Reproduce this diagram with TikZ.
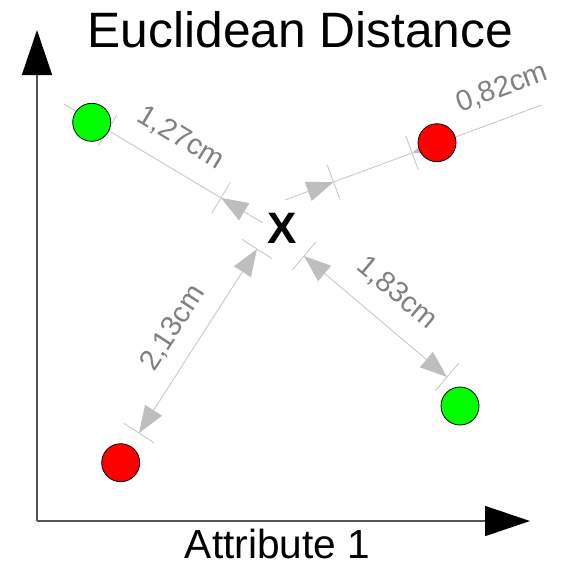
\documentclass[tikz,border=0pt]{standalone}
\usepackage{fontspec}
\setmainfont{Liberation Sans}
\usepackage{tikz}
\usetikzlibrary{positioning,arrows.meta,calc}
\definecolor{ptgreen}{HTML}{00FF00}
\definecolor{ptred}{HTML}{FF0000}
\definecolor{dimln}{HTML}{C8C8C8}
\definecolor{dimfill}{HTML}{BEBEBE}
\definecolor{dimtxt}{HTML}{808080}
\definecolor{axisln}{HTML}{555555}

\begin{document}
\begin{tikzpicture}[
  x=1pt,y=-1pt,
  >={Triangle[length=27pt,width=20pt,color=dimfill]},
  pt/.style={circle,draw=black,line width=0.8pt,minimum size=38pt,inner sep=0pt},
  dim/.style={draw=dimln,line width=0.9pt},
  tick/.style={draw=dimln,line width=0.9pt},
  dlab/.style={text=dimtxt,inner sep=0pt,font=\fontsize{29pt}{29pt}\selectfont},
  axis/.style={draw=axisln,line width=1.5pt,-{Triangle[length=45pt,width=30pt,color=black]}},
]
\useasboundingbox (0,0) rectangle (572,566);
% axes
\coordinate (O) at (37,521);
\coordinate (ytip) at (37,30);
\coordinate (xtip) at (530,521);
\draw[axis] (O) -- (ytip);
\draw[axis] (O) -- (xtip);
\node[font=\fontsize{49.7pt}{50pt}\selectfont,anchor=base] (title) at (300.5,47.3) {Euclidean Distance};
\node[font=\fontsize{40.6pt}{41pt}\selectfont,anchor=base] (xlab) at (277.5,558.5) {Attribute 1};
\node[font=\fontsize{44pt}{44pt}\selectfont\bfseries,inner sep=0pt,anchor=base] (X) at (282,243) {X};

% dimension ends and ticks
\coordinate (e1a) at (64,104);   \coordinate (e1b) at (263,223);
\coordinate (P1) at ($(e1a)!0.22!(e1b)$); \coordinate (Q1) at ($(e1a)!0.789!(e1b)$);
\coordinate (e2a) at (285,200);  \coordinate (e2b) at (541.7,105);
\coordinate (Q2) at ($(e2a)!0.189!(e2b)$); \coordinate (P2) at ($(e2a)!0.495!(e2b)$);
\coordinate (Q3) at (304,256);   \coordinate (P3) at (447,377);
\coordinate (Q4) at (257,249);   \coordinate (P4) at (139,433);

\foreach \a/\b in {P1/Q1,Q1/P1,P2/Q2,Q2/P2,P3/Q3,Q3/P3,P4/Q4,Q4/P4}
  \draw[tick] ($(\a)!18pt!90:(\b)$) -- ($(\a)!18pt!-90:(\b)$);

\draw[dim] (P1) -- (Q1);
\draw[dim,->] (e1a) -- (P1);
\draw[dim,->] (e1b) -- (Q1);
\draw[dim] (Q2) -- (P2);
\draw[dim,->] (e2a) -- (Q2);
\draw[dim,->] (e2b) -- (P2);
\draw[dim,<->] (Q3) -- (P3);
\draw[dim,<->] (Q4) -- (P4);

\node[dlab,rotate=-31] (d1) at (181,138) {1,27cm};
\node[dlab,rotate=20] (d2) at (502,88) {0,82cm};
\node[dlab,rotate=-40] (d3) at (397,293) {1,83cm};
\node[dlab,rotate=57] (d4) at (173,328) {2,13cm};

% data points
\foreach \n/\x/\y/\c in {g1/91.7/122.3/ptgreen,r1/437/142.7/ptred,g2/460/406/ptgreen,r2/120.7/462.7/ptred}
  \node[pt,fill=\c] (\n) at (\x,\y) {};
\end{tikzpicture}
\end{document}
